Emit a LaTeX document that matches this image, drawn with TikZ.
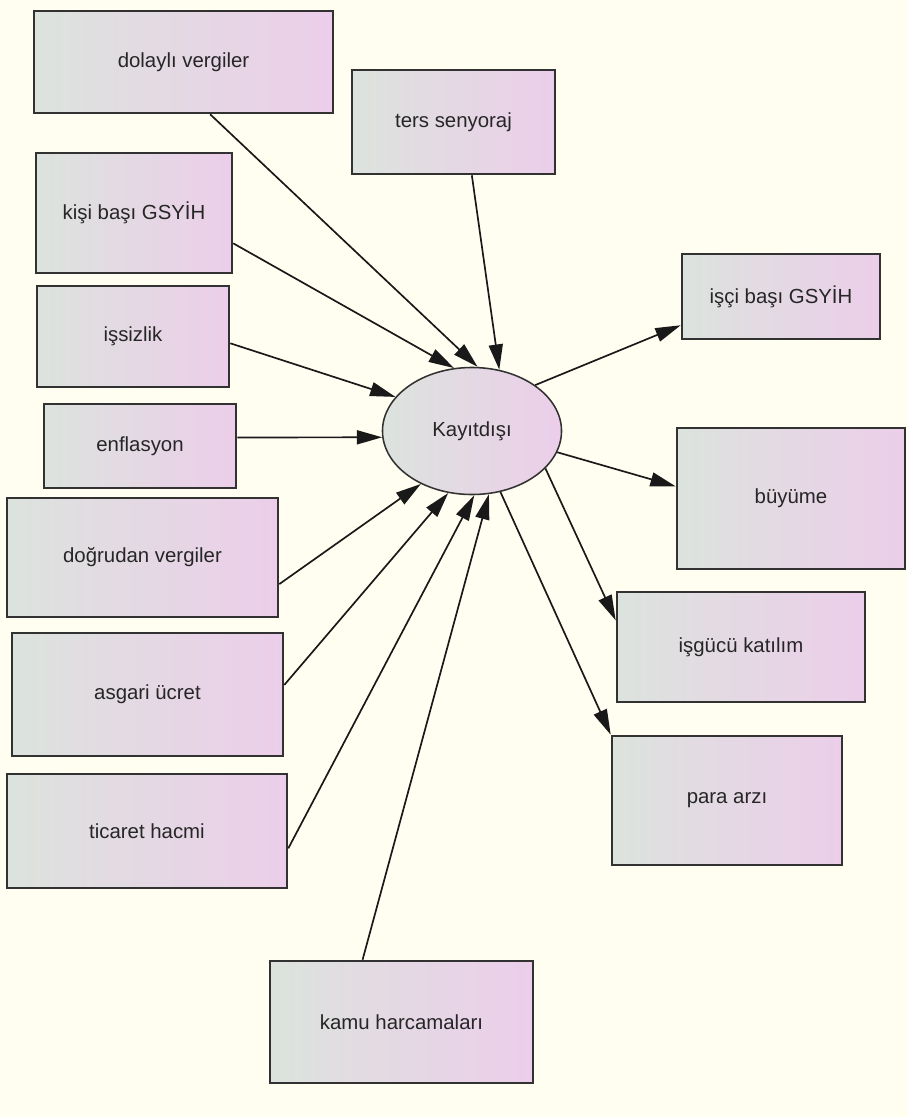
\documentclass[tikz,border=0pt]{standalone}
\usepackage{fontspec}
\setmainfont{Liberation Sans}
\usetikzlibrary{shapes.geometric,arrows.meta}
\definecolor{bgcream}{RGB}{255,254,240}
\definecolor{boxleft}{RGB}{220,227,221}
\definecolor{boxright}{RGB}{236,206,234}
\definecolor{edgegray}{RGB}{50,50,50}

\begin{document}
\begin{tikzpicture}[x=0.025cm,y=-0.025cm,
    kutu/.style={draw=edgegray,line width=1.8pt,left color=boxleft,right color=boxright,inner sep=0pt,text=black!85,font=\fontsize{14.5}{17}\selectfont},
    merkez/.style={ellipse,draw=edgegray,line width=1.1pt,left color=boxleft,right color=boxright,inner sep=0pt,text=black!85,font=\fontsize{14.5}{17}\selectfont},
    ok/.style={-{Triangle[length=18pt,width=10pt]},line width=1.2pt,draw=black!90}]
    \fill[bgcream] (0,0) rectangle (908,1117);

    \node[kutu,minimum width=7.475cm,minimum height=2.55cm] (dolayli) at (183.5,62) {dolaylı vergiler};
    \node[kutu,minimum width=5.075cm,minimum height=2.6cm] (ters) at (453.5,122) {ters senyoraj};
    \node[kutu,minimum width=4.9cm,minimum height=3.0cm] (kisi) at (134,213) {kişi başı GSYİH};
    \node[kutu,minimum width=4.8cm,minimum height=2.525cm] (issizlik) at (133,336.5) {işsizlik};
    \node[kutu,minimum width=4.8cm,minimum height=2.1cm] (enflasyon) at (140,446) {enflasyon};
    \node[kutu,minimum width=6.775cm,minimum height=2.975cm] (dogrudan) at (142.5,557.5) {doğrudan vergiler};
    \node[kutu,minimum width=6.775cm,minimum height=3.075cm] (asgari) at (147.5,694.5) {asgari ücret};
    \node[kutu,minimum width=7.0cm,minimum height=2.85cm] (ticaret) at (147,831) {ticaret hacmi};
    \node[kutu,minimum width=6.575cm,minimum height=3.05cm] (kamu) at (401.5,1022) {kamu harcamaları};

    \node[merkez,minimum width=4.475cm,minimum height=3.175cm] (kayit) at (472,431) {Kayıtdışı};

    \node[kutu,minimum width=4.95cm,minimum height=2.125cm] (isci) at (781,296.5) {işçi başı GSYİH};
    \node[kutu,minimum width=5.7cm,minimum height=3.525cm] (buyume) at (791,498.5) {büyüme};
    \node[kutu,minimum width=6.2cm,minimum height=2.75cm] (isgucu) at (741,647) {işgücü katılım};
    \node[kutu,minimum width=5.75cm,minimum height=3.225cm] (para) at (727,800.5) {para arzı};

    \foreach \src/\dst in {dolayli.297.5/85,ters.289.6/66,kisi.343.5/106.5,issizlik.356.7/156,enflasyon.5.4/184,dogrudan.349.8/226,asgari.4/249,ticaret.353.5/272.5,kamu.122.3/285}
{
    \draw[ok] (\src) -- (kayit.\dst);
}
    \draw[ok] (kayit.36) -- (isci.196.1);
    \draw[ok] (kayit.346) -- (buyume.174.7);
    \draw[ok] (kayit.333) -- (isgucu.168.6);
    \draw[ok] (kayit.295) -- (para.north west);
\end{tikzpicture}
\end{document}
